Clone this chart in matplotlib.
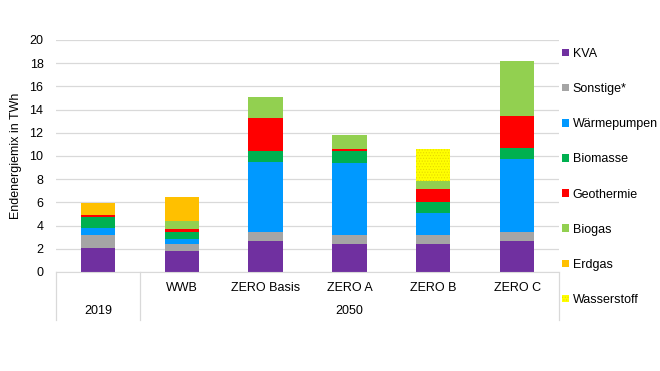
import numpy as np
import matplotlib
matplotlib.use('Agg')
import matplotlib.pyplot as plt

plt.rcParams['font.family'] = ['Liberation Sans', 'DejaVu Sans']

# --------------------------------Data----------------------------------------
scenarios = ['', 'WWB', 'ZERO Basis', 'ZERO A', 'ZERO B', 'ZERO C']
groups = ['2019', '2050']

kva = [2.1, 1.78, 2.7, 2.42, 2.42, 2.7]
sonstige = [1.07, 0.61, 0.78, 0.77, 0.77, 0.78]
waermepumpen = [0.66, 0.46, 6.02, 6.19, 1.93, 6.22]
biomasse = [0.95, 0.63, 0.97, 1.01, 0.95, 0.98]
geothermie = [0.14, 0.23, 2.82, 0.2, 1.12, 2.79]
biogas = [0.0, 0.69, 1.79, 1.18, 0.69, 4.69]
erdgas = [1.0, 2.1, 0.0, 0.0, 0.0, 0.0]
wasserstoff = [0.0, 0.0, 0.0, 0.0, 2.74, 0.0]

series = [('KVA', kva, '#7030A0'),
          ('Sonstige*', sonstige, '#A5A5A5'),
          ('Wärmepumpen', waermepumpen, '#0099FF'),
          ('Biomasse', biomasse, '#00B050'),
          ('Geothermie', geothermie, '#FF0000'),
          ('Biogas', biogas, '#92D050'),
          ('Erdgas', erdgas, '#FFC000'),
          ('Wasserstoff', wasserstoff, '#FFFF00')]

# --------------------------------Plot----------------------------------------
fig = plt.figure(figsize=(6.6, 3.71), dpi=100)
ax = fig.add_axes([56 / 660, 1 - 272 / 371, 503 / 660, 232 / 371])

x = np.arange(len(scenarios))
bottom = np.zeros(len(scenarios))
handles = []
plt.rcParams['hatch.linewidth'] = 0.5
for name, vals, col in series:
    vals = np.array(vals)
    if name == 'Wasserstoff':
        # dotted fill like the original
        b = ax.bar(x, vals, 0.41, bottom=bottom, color=col, edgecolor='#E6D800',
                   hatch='......', linewidth=0, label=name)
    else:
        b = ax.bar(x, vals, 0.41, bottom=bottom, color=col, linewidth=0, label=name)
    bottom += vals
    handles.append(b)

ax.set_xlim(-0.5, len(scenarios) - 0.5)
ax.set_ylim(0, 20)
ax.set_yticks(range(0, 21, 2))
ax.yaxis.grid(True, color='#D9D9D9', linewidth=0.9)
ax.set_axisbelow(True)
for s in ['top', 'right', 'left']:
    ax.spines[s].set_visible(False)
ax.spines['bottom'].set_color('#D9D9D9')
ax.tick_params(axis='y', length=0, pad=9, labelsize=9, colors='#000000')
ax.set_xticks([])

# two level category axis
for i, lab in enumerate(scenarios):
    ax.text(i, -0.069, lab, transform=ax.get_xaxis_transform(),
            ha='center', va='center', fontsize=9)
ax.text(0, -0.168, groups[0], transform=ax.get_xaxis_transform(),
        ha='center', va='center', fontsize=9)
ax.text(3, -0.168, groups[1], transform=ax.get_xaxis_transform(),
        ha='center', va='center', fontsize=9)
for xv in [-0.5, 0.5, len(scenarios) - 0.5]:
    ax.plot([xv, xv], [0, -0.207], transform=ax.get_xaxis_transform(),
            color='#D9D9D9', linewidth=0.9, clip_on=False)

fig.text(16 / 660, 1 - 156 / 371, 'Endenergiemix in TWh', rotation=90,
         ha='center', va='center', fontsize=9)

fig.legend(handles=handles, loc='upper left', bbox_to_anchor=(562 / 660, 1 - 48 / 371),
           frameon=False, fontsize=9, handlelength=0.55, handleheight=0.55,
           handletextpad=0.3, labelspacing=1.85, borderaxespad=0, borderpad=0)

plt.savefig('out.png', dpi=100)
